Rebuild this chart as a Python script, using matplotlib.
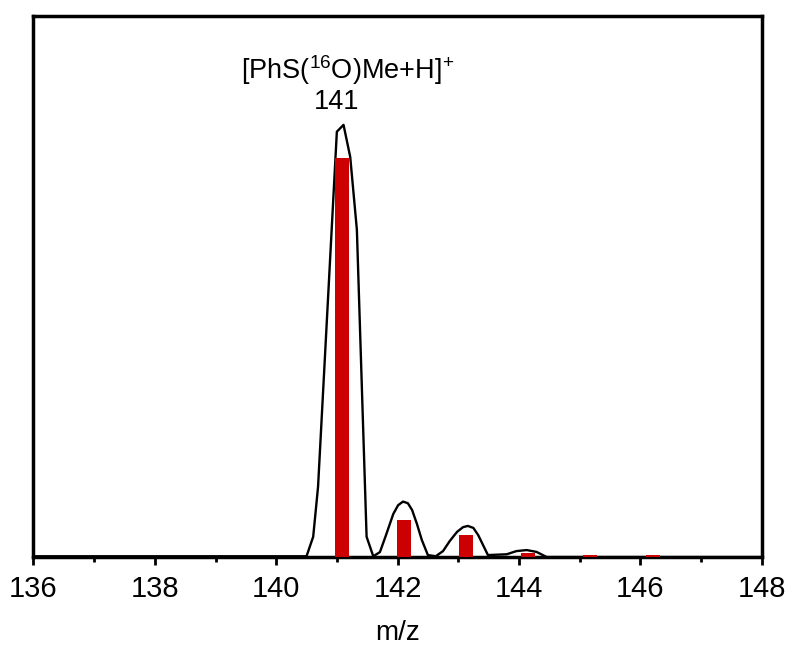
import matplotlib.pyplot as plt

# ----------- DATA --------------
# stick spectrum (calculated isotope pattern)
bar_mz = [141.08, 142.10, 143.13, 144.15, 145.18, 146.21]
bar_int = [100.0, 9.3, 5.5, 0.9, 0.5, 0.5]

# measured profile spectrum
prof_mz = [136.0, 137.0, 138.0, 139.0, 140.0, 140.50, 140.61, 140.69, 141.00, 141.11,
           141.22, 141.33, 141.49, 141.60, 141.71, 141.81, 141.93, 142.01, 142.09,
           142.17, 142.24, 142.32, 142.40, 142.50, 142.63, 142.75, 142.86, 142.98,
           143.08, 143.16, 143.25, 143.33, 143.41, 143.49, 143.80, 143.96,
           144.13, 144.29, 144.46, 145.0, 146.0, 147.0, 148.0]
prof_int = [0.2, 0.2, 0.2, 0.2, 0.2, 0.2, 5.1, 17.6, 106.6, 108.3,
            100.3, 82.0, 5.1, 0.2, 1.25, 5.5, 10.8, 13.0, 13.9,
            13.5, 11.8, 8.3, 4.3, 0.5, 0.2, 1.5, 4.0, 6.3,
            7.5, 7.8, 7.3, 5.5, 3.0, 0.5, 0.7, 1.5,
            1.75, 1.3, 0.0, 0.0, 0.0, 0.0, 0.0]

label_ion = r'[PhS($^{16}$O)Me+H]$^{+}$'
label_mz = '141'
# --------------------------------

plt.rcParams['font.family'] = ['Liberation Sans', 'DejaVu Sans']
plt.rcParams['mathtext.fontset'] = 'custom'
plt.rcParams['mathtext.rm'] = 'Liberation Sans'
plt.rcParams['mathtext.it'] = 'Liberation Sans'

fig = plt.figure(figsize=(7.9, 6.47), dpi=100)
ax = fig.add_axes([0.0424, 0.139, 0.9216, 0.837])

ax.bar(bar_mz, bar_int, width=0.23, color='#cc0000', zorder=4)
ax.plot(prof_mz, prof_int, color='black', linewidth=1.7, zorder=3)

ax.text(141.18, 119.8, label_ion, ha='center', va='baseline', fontsize=19.5)
ax.text(141.0, 112.3, label_mz, ha='center', va='baseline', fontsize=19.5)

ax.set_xlim(136, 148)
ax.set_ylim(0, 135.7)
ax.set_xticks(range(136, 149, 2))
ax.set_xticks(range(137, 148, 2), minor=True)
ax.set_yticks([])
ax.tick_params(axis='x', which='major', direction='out', length=6, width=2, labelsize=21, pad=7)
ax.tick_params(axis='x', which='minor', direction='out', length=3.5, width=2)
for s in ax.spines.values():
    s.set_linewidth(2.5)
ax.set_xlabel('m/z', fontsize=20, labelpad=12)

fig.savefig('out.png', dpi=100)
